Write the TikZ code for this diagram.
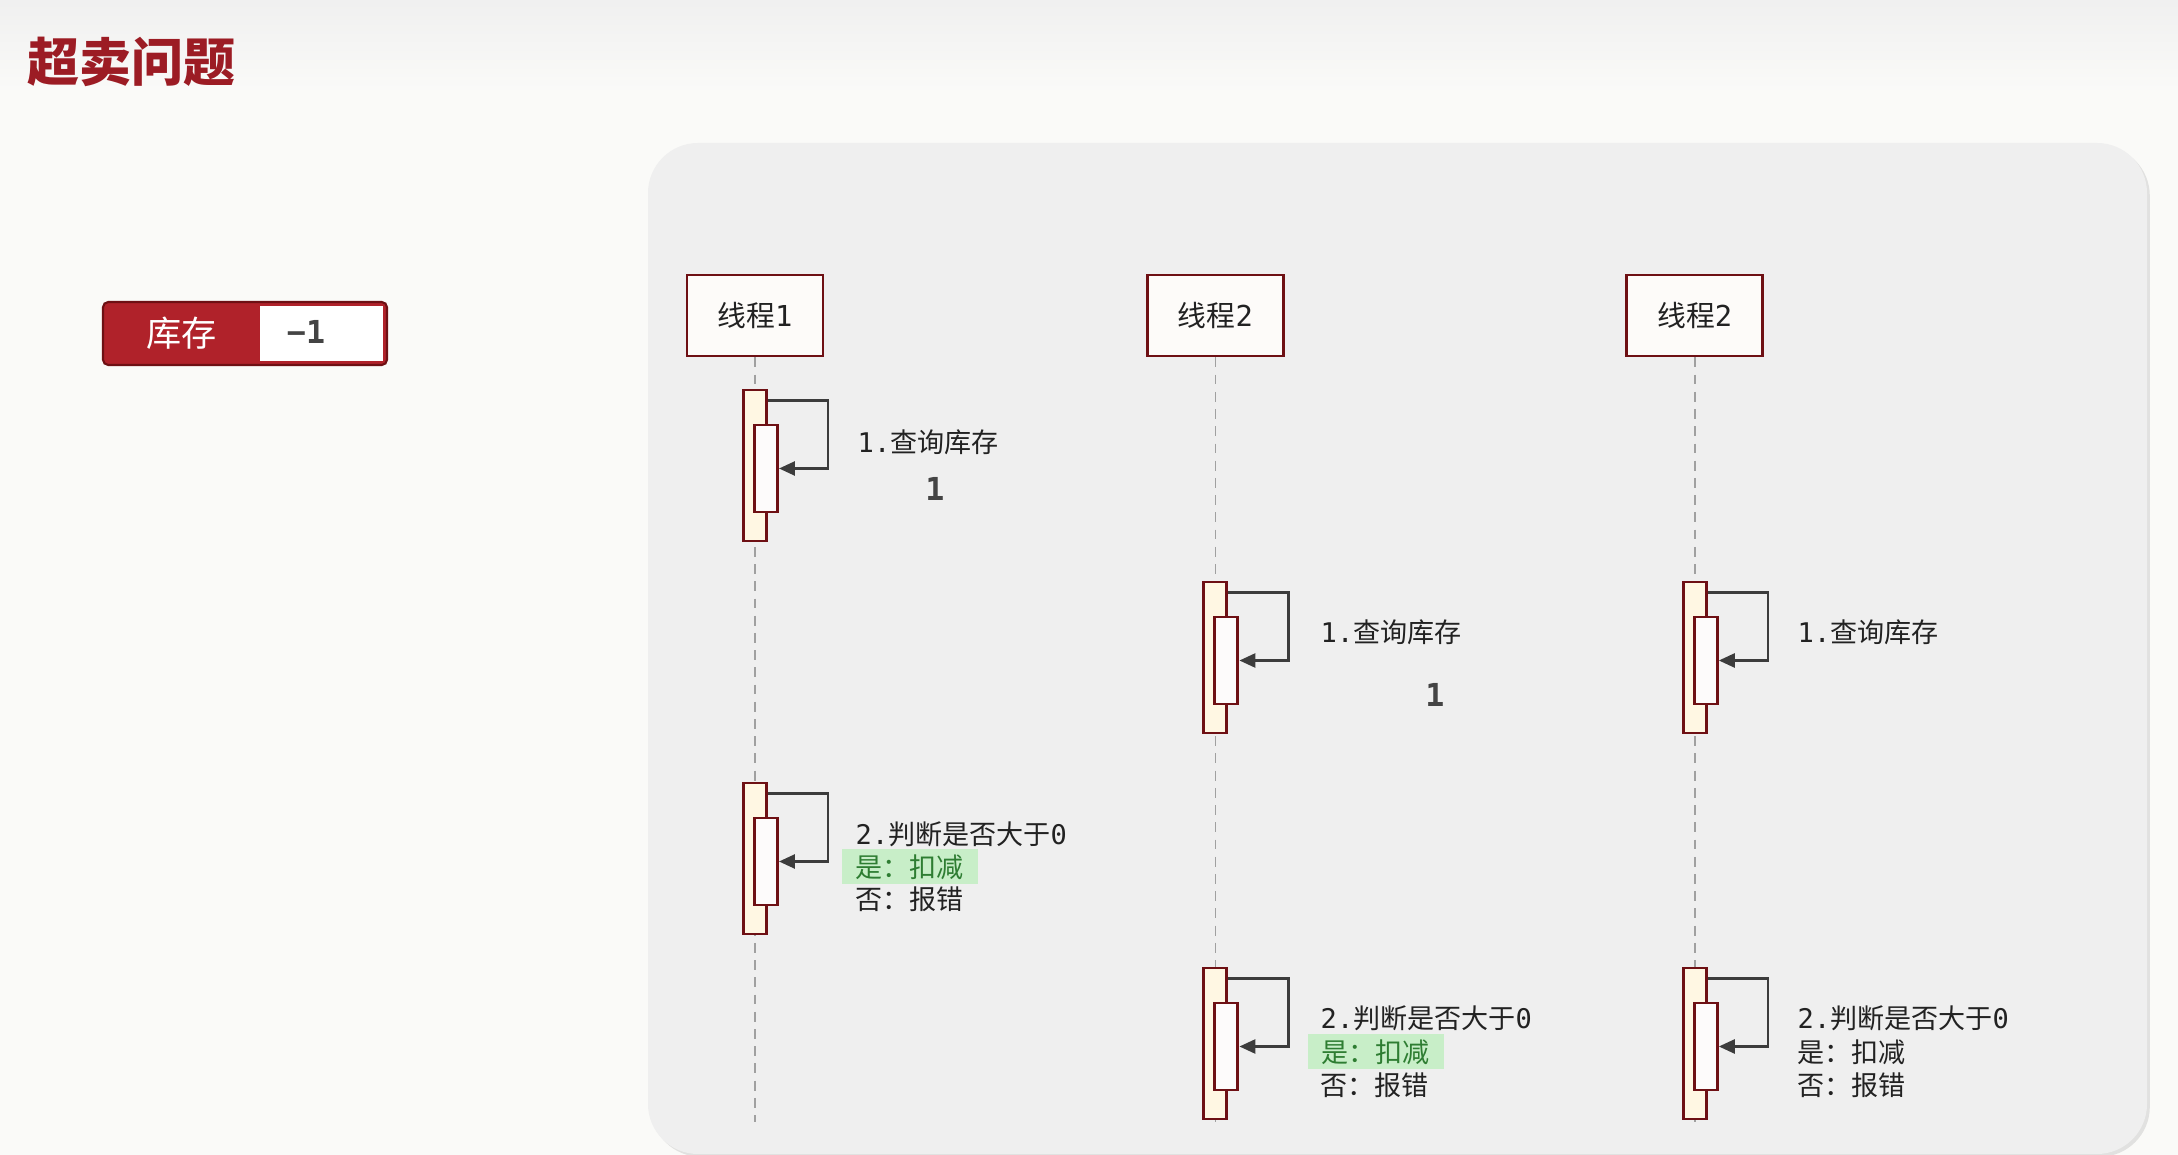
\documentclass[tikz,border=0pt]{standalone}
\usepackage{fontspec}
\setmainfont{Noto Sans CJK SC}
\setmonofont{DejaVu Sans Mono}
\usepackage{tikz}
\usetikzlibrary{arrows.meta,positioning,shadows}

\definecolor{pagebg}{HTML}{FAFAF8}
\definecolor{panelgray}{HTML}{EFEFEF}
\definecolor{darkred}{HTML}{6E1014}
\definecolor{titlered}{HTML}{9C1C24}
\definecolor{stockred}{HTML}{B0222A}
\definecolor{barfill}{HTML}{FFF7E3}
\definecolor{innerfill}{HTML}{FDFBFB}
\definecolor{boxfill}{HTML}{FDFBF9}
\definecolor{arrgray}{HTML}{3C3C3C}
\definecolor{lifegray}{HTML}{A0A0A0}
\definecolor{okgreen}{HTML}{2E7D32}
\definecolor{okfill}{HTML}{C8EEC8}
\definecolor{txtgray}{HTML}{222222}
\definecolor{numgray}{HTML}{444444}

\newcommand{\dg}[1]{{\ttfamily #1}}

\begin{document}
\begin{tikzpicture}[
  font=\fontsize{7.7pt}{9pt}\selectfont,
  thread/.style={draw=darkred, fill=boxfill, line width=0.8pt, inner sep=0pt,
    minimum width=1.36cm, minimum height=0.81cm, text=txtgray,
    font=\fontsize{8.2pt}{10pt}\selectfont},
  life/.style={draw=lifegray, line width=0.5pt, dash pattern=on 2.8pt off 2.1pt},
  actbar/.style={draw=darkred, fill=barfill, line width=0.85pt, inner sep=0pt,
    minimum width=0.23cm, minimum height=1.51cm},
  subbar/.style={draw=darkred, fill=innerfill, line width=0.85pt, inner sep=0pt,
    minimum width=0.23cm, minimum height=0.87cm},
  selfarr/.style={-{Triangle[length=1.6mm, width=1.4mm]}, draw=arrgray, line width=0.75pt},
  msg/.style={anchor=west, inner sep=0pt, text=txtgray},
  okline/.style={msg, fill=okfill, text=okgreen, inner xsep=0.14cm, minimum height=0.35cm},
  val/.style={font=\fontsize{9pt}{10pt}\selectfont\ttfamily\bfseries, text=numgray}
]
\useasboundingbox (0,0) rectangle (21.78,-11.55);
\fill[pagebg] (0,0) rectangle (21.78,-11.55);
\shade[top color=gray!12, bottom color=pagebg] (0,0) rectangle (21.78,-0.9);

% title and stock counter
\node[anchor=west, inner sep=0pt, text=titlered,
  font=\fontsize{14.8pt}{17pt}\selectfont\bfseries] (title) at (0.27,-0.62) {超卖问题};
\node[fill=stockred, draw=darkred, line width=0.6pt, rounded corners=1.5pt,
  minimum width=2.84cm, minimum height=0.63cm] (stock) at (2.45,-3.335) {};
\node[text=white, font=\fontsize{10pt}{12pt}\selectfont] (stocklbl) at (1.815,-3.335) {库存};
\node[fill=white, inner sep=0pt, minimum width=1.23cm, minimum height=0.55cm,
  anchor=east] (stockval) at ([xshift=-0.04cm]stock.east) {};
\node[val] (stocknum) at (3.06,-3.32) {−1};

% panel
\fill[panelgray, rounded corners=0.5cm,
  drop shadow={shadow xshift=0.8pt, shadow yshift=-0.8pt, opacity=0.2, fill=gray}]
  (6.48,-1.43) rectangle (21.47,-11.54);

% threads and lifelines
\node[thread] (t1) at (7.55,-3.155) {线程\dg{1}};
\node[thread, right=3.216cm of t1] (t2) {线程\dg{2}};
\node[thread, right=3.406cm of t2] (t3) {线程\dg{2}};
\coordinate (e1) at (t1.south |- 0,-11.22);
\coordinate (e2) at (t2.south |- 0,-11.22);
\coordinate (e3) at (t3.south |- 0,-11.22);
\draw[life] (t1.south) -- (e1);
\draw[life] (t2.south) -- (e2);
\draw[life] (t3.south) -- (e3);

% thread 1
\node[actbar] (a1) at (t1.south |- 0,-4.655) {};
\node[subbar] (a1s) at ([xshift=0.11cm, yshift=-0.03cm]a1.center) {};
\draw[selfarr] ([yshift=-0.12cm]a1.north east) -- ++(0.6,0) |- (a1s.east);
\node[msg] (a1m) at (8.57,-4.42) {\dg{1.}查询库存};
\node[val] (a1v) at (9.35,-4.89) {1};

\node[actbar] (b1) at (t1.south |- 0,-8.585) {};
\node[subbar] (b1s) at ([xshift=0.11cm, yshift=-0.03cm]b1.center) {};
\draw[selfarr] ([yshift=-0.12cm]b1.north east) -- ++(0.6,0) |- (b1s.east);
\node[msg] (b1m) at (8.55,-8.34) {\dg{2.}判断是否大于\dg{0}};
\node[okline] (b1y) at (8.41,-8.67) {是：扣减};
\node[msg] (b1n) at (8.55,-8.99) {否：报错};

% thread 2
\node[actbar] (a2) at (t2.south |- 0,-6.575) {};
\node[subbar] (a2s) at ([xshift=0.11cm, yshift=-0.03cm]a2.center) {};
\draw[selfarr] ([yshift=-0.12cm]a2.north east) -- ++(0.6,0) |- (a2s.east);
\node[msg] (a2m) at (13.20,-6.32) {\dg{1.}查询库存};
\node[val] (a2v) at (14.35,-6.95) {1};

\node[actbar] (b2) at (t2.south |- 0,-10.435) {};
\node[subbar] (b2s) at ([xshift=0.11cm, yshift=-0.03cm]b2.center) {};
\draw[selfarr] ([yshift=-0.12cm]b2.north east) -- ++(0.6,0) |- (b2s.east);
\node[msg] (b2m) at (13.20,-10.18) {\dg{2.}判断是否大于\dg{0}};
\node[okline] (b2y) at (13.07,-10.52) {是：扣减};
\node[msg] (b2n) at (13.20,-10.85) {否：报错};

% thread 3
\node[actbar] (a3) at (t3.south |- 0,-6.575) {};
\node[subbar] (a3s) at ([xshift=0.11cm, yshift=-0.03cm]a3.center) {};
\draw[selfarr] ([yshift=-0.12cm]a3.north east) -- ++(0.6,0) |- (a3s.east);
\node[msg] (a3m) at (17.97,-6.32) {\dg{1.}查询库存};

\node[actbar] (b3) at (t3.south |- 0,-10.435) {};
\node[subbar] (b3s) at ([xshift=0.11cm, yshift=-0.03cm]b3.center) {};
\draw[selfarr] ([yshift=-0.12cm]b3.north east) -- ++(0.6,0) |- (b3s.east);
\node[msg] (b3m) at (17.97,-10.18) {\dg{2.}判断是否大于\dg{0}};
\node[msg] (b3y) at (17.97,-10.52) {是：扣减};
\node[msg] (b3n) at (17.97,-10.85) {否：报错};
\end{tikzpicture}
\end{document}
